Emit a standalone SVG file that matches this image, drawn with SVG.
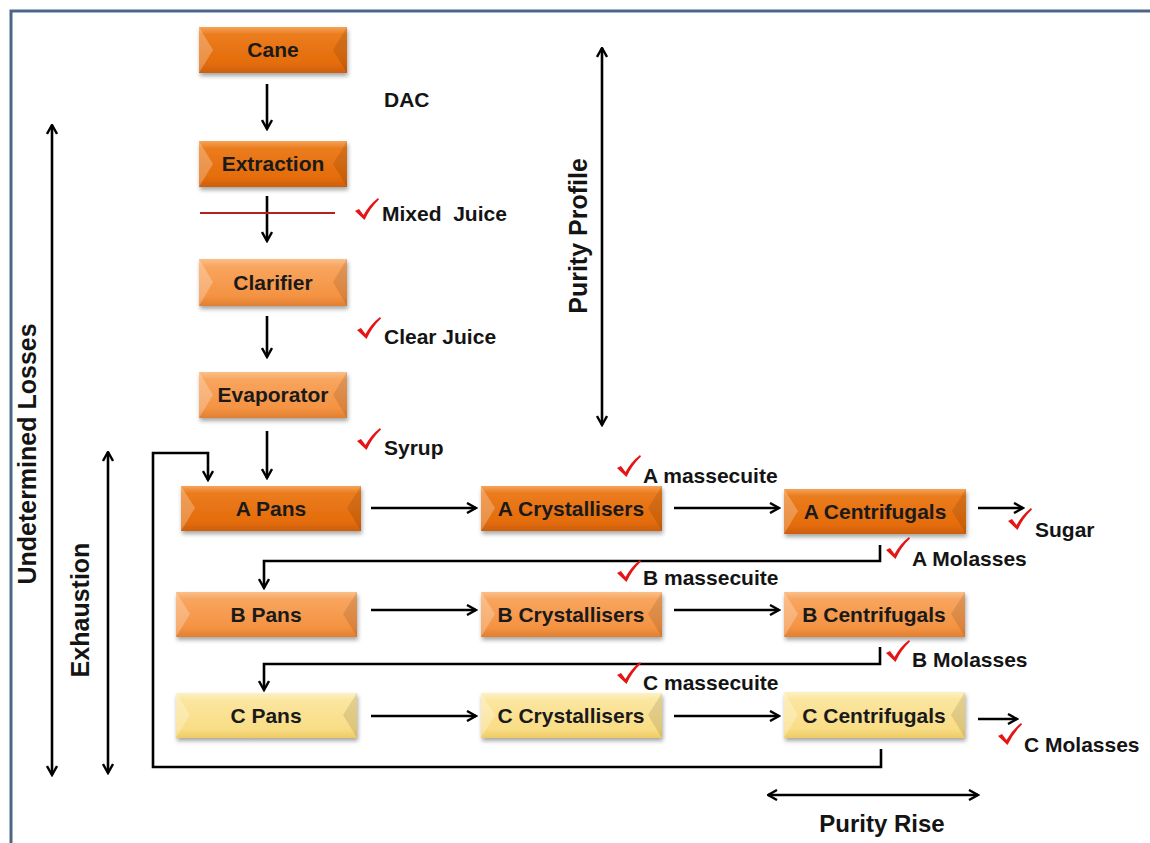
<svg xmlns="http://www.w3.org/2000/svg" xmlns:xlink="http://www.w3.org/1999/xlink" width="1150" height="843" viewBox="0 0 1150 843">
<style>
.lbl{font-family:"Liberation Sans",Arial,sans-serif;font-weight:bold;font-size:21px;fill:#141414}
.box text{font-family:"Liberation Sans",Arial,sans-serif;font-weight:bold;font-size:21px;fill:#1a1a1a;text-anchor:middle}
.side{font-family:"Liberation Sans",Arial,sans-serif;font-weight:bold;font-size:25px;fill:#141414;text-anchor:middle}
.ln{fill:none;stroke:#000;stroke-width:2.6}
.arr{marker-end:url(#ah)}
.dbl{marker-end:url(#ah);marker-start:url(#ah)}
.hl{fill:#fff;opacity:0.25}
.dk{fill:#000;opacity:0.10}
</style>
<defs>
<linearGradient id="gD" x1="0" y1="0" x2="0" y2="1">
<stop offset="0" stop-color="#F5A35A"/><stop offset="0.16" stop-color="#EB7C1E"/><stop offset="0.8" stop-color="#E46C0A"/><stop offset="1" stop-color="#CC5F08"/>
</linearGradient>
<linearGradient id="gM" x1="0" y1="0" x2="0" y2="1">
<stop offset="0" stop-color="#FAC08A"/><stop offset="0.16" stop-color="#F8A55E"/><stop offset="0.8" stop-color="#F49242"/><stop offset="1" stop-color="#E07F30"/>
</linearGradient>
<linearGradient id="gY" x1="0" y1="0" x2="0" y2="1">
<stop offset="0" stop-color="#FDF1C4"/><stop offset="0.16" stop-color="#FBE6A0"/><stop offset="0.8" stop-color="#F9DD86"/><stop offset="1" stop-color="#EDCB64"/>
</linearGradient>
<filter id="sh" x="-10%" y="-20%" width="120%" height="150%">
<feDropShadow dx="1" dy="3" stdDeviation="2" flood-color="#000" flood-opacity="0.35"/>
</filter>
<marker id="ah" viewBox="0 0 12 12" refX="10.5" refY="6" markerWidth="12" markerHeight="12" markerUnits="userSpaceOnUse" orient="auto-start-reverse">
<path d="M1.5,1 L10.5,6 L1.5,11" fill="none" stroke="#000" stroke-width="2.4" stroke-linejoin="miter"/>
</marker>
<path id="chk" d="M0,13 L4,11 L8.5,17 Q14,7 23,0 L24,1.5 Q15,10 9.5,22 Z" fill="#E51515"/>
</defs>
<rect width="1150" height="843" fill="#fff"/>
<path d="M11,843 V11 H1150" fill="none" stroke="#4A6788" stroke-width="3"/>

<g id="connectors">
<path class="ln arr" d="M267,84 V129"/>
<path class="ln arr" d="M267,196 V241"/>
<path class="ln arr" d="M267,316 V357"/>
<path class="ln arr" d="M267,431 V478"/>
<path d="M200,213 H335" stroke="#B52020" stroke-width="2"/>
<path class="ln arr" d="M371,508 H476"/>
<path class="ln arr" d="M674,508 H779"/>
<path class="ln arr" d="M978,508 H1023"/>
<path class="ln arr" d="M880,545 V561 H264 V588"/>
<path class="ln arr" d="M371,610 H476"/>
<path class="ln arr" d="M674,610 H779"/>
<path class="ln arr" d="M880,647 V664 H264 V690"/>
<path class="ln arr" d="M371,716 H476"/>
<path class="ln arr" d="M674,716 H779"/>
<path class="ln arr" d="M978,719 H1017"/>
<path class="ln arr" d="M881,749 V767 H153 V453 H208 V480"/>
<path class="ln dbl" d="M52,125 V775"/>
<path class="ln dbl" d="M108,452 V773"/>
<path class="ln dbl" d="M602,48 V425"/>
<path class="ln dbl" d="M768,795 H978"/>
</g>

<g id="cane" class="box"><rect x="199" y="27" width="148" height="46" fill="url(#gD)" filter="url(#sh)"/><polygon class="hl" points="199,27 213,50 199,73"/><polygon class="dk" points="347,27 333,50 347,73"/><text x="273" y="57">Cane</text></g>
<g id="extraction" class="box"><rect x="199" y="141" width="148" height="46" fill="url(#gD)" filter="url(#sh)"/><polygon class="hl" points="199,141 213,164 199,187"/><polygon class="dk" points="347,141 333,164 347,187"/><text x="273" y="171">Extraction</text></g>
<g id="clarifier" class="box"><rect x="199" y="259" width="148" height="47" fill="url(#gM)" filter="url(#sh)"/><polygon class="hl" points="199,259 213,282 199,306"/><polygon class="dk" points="347,259 333,282 347,306"/><text x="273" y="290">Clarifier</text></g>
<g id="evaporator" class="box"><rect x="199" y="372" width="148" height="46" fill="url(#gM)" filter="url(#sh)"/><polygon class="hl" points="199,372 213,395 199,418"/><polygon class="dk" points="347,372 333,395 347,418"/><text x="273" y="402">Evaporator</text></g>

<g id="a-pans" class="box"><rect x="181" y="486" width="180" height="45" fill="url(#gD)" filter="url(#sh)"/><polygon class="hl" points="181,486 195,508 181,531"/><polygon class="dk" points="361,486 347,508 361,531"/><text x="271" y="516">A Pans</text></g>
<g id="a-crystallisers" class="box"><rect x="481" y="486" width="181" height="45" fill="url(#gD)" filter="url(#sh)"/><polygon class="hl" points="481,486 495,508 481,531"/><polygon class="dk" points="662,486 648,508 662,531"/><text x="571" y="516">A Crystallisers</text></g>
<g id="a-centrifugals" class="box"><rect x="784" y="489" width="182" height="45" fill="url(#gD)" filter="url(#sh)"/><polygon class="hl" points="784,489 798,511 784,534"/><polygon class="dk" points="966,489 952,511 966,534"/><text x="875" y="519">A Centrifugals</text></g>

<g id="b-pans" class="box"><rect x="176" y="592" width="181" height="45" fill="url(#gM)" filter="url(#sh)"/><polygon class="hl" points="176,592 190,614 176,637"/><polygon class="dk" points="357,592 343,614 357,637"/><text x="266" y="622">B Pans</text></g>
<g id="b-crystallisers" class="box"><rect x="481" y="592" width="181" height="45" fill="url(#gM)" filter="url(#sh)"/><polygon class="hl" points="481,592 495,614 481,637"/><polygon class="dk" points="662,592 648,614 662,637"/><text x="571" y="622">B Crystallisers</text></g>
<g id="b-centrifugals" class="box"><rect x="784" y="592" width="181" height="45" fill="url(#gM)" filter="url(#sh)"/><polygon class="hl" points="784,592 798,614 784,637"/><polygon class="dk" points="965,592 951,614 965,637"/><text x="874" y="622">B Centrifugals</text></g>

<g id="c-pans" class="box"><rect x="176" y="693" width="181" height="45" fill="url(#gY)" filter="url(#sh)"/><polygon class="hl" points="176,693 190,715 176,738"/><polygon class="dk" points="357,693 343,715 357,738"/><text x="266" y="723">C Pans</text></g>
<g id="c-crystallisers" class="box"><rect x="481" y="693" width="181" height="45" fill="url(#gY)" filter="url(#sh)"/><polygon class="hl" points="481,693 495,715 481,738"/><polygon class="dk" points="662,693 648,715 662,738"/><text x="571" y="723">C Crystallisers</text></g>
<g id="c-centrifugals" class="box"><rect x="784" y="692" width="181" height="46" fill="url(#gY)" filter="url(#sh)"/><polygon class="hl" points="784,692 798,715 784,738"/><polygon class="dk" points="965,692 951,715 965,738"/><text x="874" y="723">C Centrifugals</text></g>

<g id="labels">
<text class="lbl" x="384" y="107">DAC</text>
<text class="lbl" x="382" y="221" style="white-space:pre">Mixed  Juice</text>
<text class="lbl" x="384" y="344">Clear Juice</text>
<text class="lbl" x="384" y="455">Syrup</text>
<text class="lbl" x="643" y="483">A massecuite</text>
<text class="lbl" x="1035" y="537">Sugar</text>
<text class="lbl" x="912" y="566">A Molasses</text>
<text class="lbl" x="643" y="585">B massecuite</text>
<text class="lbl" x="912" y="667">B Molasses</text>
<text class="lbl" x="643" y="690">C massecuite</text>
<text class="lbl" x="1024" y="752">C Molasses</text>
<text class="side" x="882" y="832" style="font-size:24px">Purity Rise</text>
<text class="side" transform="translate(36,454) rotate(-90)">Undetermined Losses</text>
<text class="side" transform="translate(89,610) rotate(-90)">Exhaustion</text>
<text class="side" transform="translate(587,236) rotate(-90)">Purity Profile</text>
</g>

<g id="checks">
<use xlink:href="#chk" x="355" y="198"/>
<use xlink:href="#chk" x="357" y="317"/>
<use xlink:href="#chk" x="357" y="428"/>
<use xlink:href="#chk" x="617" y="455"/>
<use xlink:href="#chk" x="1008" y="508"/>
<use xlink:href="#chk" x="886" y="537"/>
<use xlink:href="#chk" x="617" y="560"/>
<use xlink:href="#chk" x="886" y="640"/>
<use xlink:href="#chk" x="617" y="662"/>
<use xlink:href="#chk" x="998" y="723"/>
</g>
</svg>
